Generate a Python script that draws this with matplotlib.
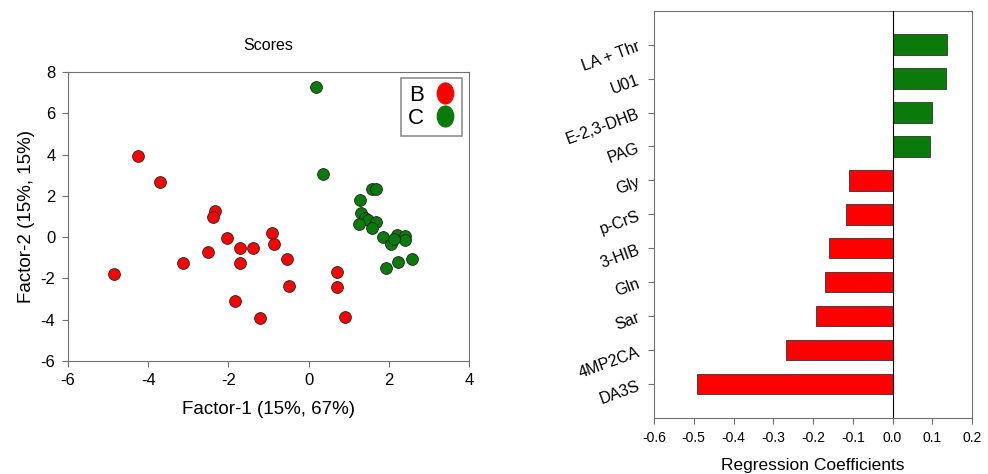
import numpy as np
import matplotlib.pyplot as plt
from matplotlib.path import Path
from matplotlib.lines import Line2D

plt.rcParams['font.family'] = ['Liberation Sans', 'DejaVu Sans']
plt.rcParams['axes.unicode_minus'] = False

# scores, group B (red)
b_x = [-4.84, -4.26, -3.71, -3.13, -2.34, -2.38, -2.51, -2.04, -1.70, -1.70,
       -1.39, -1.84, -1.20, -0.90, -0.86, -0.55, -0.48, 0.72, 0.72, 0.92]
b_y = [-1.79, 3.95, 2.65, -1.23, 1.29, 0.97, -0.71, -0.03, -0.55, -1.26,
       -0.52, -3.08, -3.92, 0.18, -0.31, -1.06, -2.35, -1.69, -2.40, -3.89]

# scores, group C (green)
c_x = [0.18, 0.37, 1.57, 1.68, 1.28, 1.30, 1.41, 1.49, 1.26, 1.68,
       1.59, 1.86, 2.05, 2.20, 2.40, 2.40, 2.14, 1.93, 2.22, 2.57]
c_y = [7.26, 3.06, 2.33, 2.33, 1.78, 1.15, 0.91, 0.83, 0.64, 0.72,
       0.43, -0.01, -0.35, 0.10, 0.07, -0.15, -0.11, -1.51, -1.22, -1.06]

# regression coefficients (bottom to top)
names = ['DA3S', '4MP2CA', 'Sar', 'Gln', '3-HIB', 'p-CrS', 'Gly',
         'PAG', 'E-2,3-DHB', 'U01', 'LA + Thr']
coefs = [-0.491, -0.267, -0.192, -0.170, -0.161, -0.117, -0.109,
         0.093, 0.099, 0.134, 0.138]

red = '#ff0000'
green = '#0a7a0a'
spine_col = '#707070'

fig = plt.figure(figsize=(9.88, 4.74), dpi=100)

# ---- left: scores plot
ax1 = fig.add_axes([0.0688, 0.2384, 0.4059, 0.6097])
ax1.scatter(b_x, b_y, s=72, c=red, edgecolors='#222222', linewidths=0.6,
            zorder=3)
ax1.scatter(c_x, c_y, s=72, c=green, edgecolors='#222222', linewidths=0.6,
            zorder=3)
ax1.set_xlim(-6, 4)
ax1.set_ylim(-6, 8)
ax1.set_xticks(np.arange(-6, 5, 2))
ax1.set_yticks(np.arange(-6, 9, 2))
ax1.set_title('Scores', fontsize=11.5, pad=16)
ax1.set_xlabel('Factor-1 (15%, 67%)', fontsize=13.5, labelpad=9)
ax1.set_ylabel('Factor-2 (15%, 15%)', fontsize=13.5, labelpad=4)
ax1.tick_params(labelsize=12, length=4, color=spine_col, pad=5)
for sp in ax1.spines.values():
    sp.set_color(spine_col)

# oval legend markers, as in the original
circ = Path.unit_circle()
oval = Path(circ.vertices * np.array([0.8, 1.0]), circ.codes)
handles = [Line2D([], [], ls='none', marker=oval, ms=16, mfc=red, mec='none'),
           Line2D([], [], ls='none', marker=oval, ms=16, mfc=green, mec='none')]
leg = ax1.legend(handles, ['B', 'C'], loc='upper right', markerfirst=False,
                 fontsize=16, fancybox=False, edgecolor='#909090',
                 handletextpad=0.5, labelspacing=0.1, borderpad=0.3,
                 handlelength=0.9, framealpha=1, borderaxespad=0,
                 bbox_to_anchor=(0.982, 0.979))
leg.get_frame().set_linewidth(1.2)

# ---- right: regression coefficients
ax2 = fig.add_axes([0.662, 0.1181, 0.3219, 0.8594])
pos = np.arange(len(names))
cols = [green if v > 0 else red for v in coefs]
ax2.barh(pos, coefs, height=0.6, color=cols, edgecolor='#333333',
         linewidth=0.6, zorder=3)
ax2.axvline(0, color='black', linewidth=0.8, zorder=4)
ax2.set_xlim(-0.6, 0.2)
ax2.set_ylim(-1, len(names))
xt = np.round(np.arange(-0.6, 0.21, 0.1), 1)
ax2.set_xticks(xt)
ax2.set_xticklabels([f'{abs(v):.1f}' if v == 0 else f'{v:.1f}' for v in xt])
ax2.set_yticks(pos)
ax2.set_yticklabels(names, rotation=20, ha='right', rotation_mode='anchor')
ax2.set_xlabel('Regression Coefficients', fontsize=12.5, labelpad=10)
ax2.tick_params(axis='x', labelsize=10, length=4, color=spine_col, pad=5)
ax2.tick_params(axis='y', labelsize=11.5, length=4, color=spine_col, pad=7)
for sp in ax2.spines.values():
    sp.set_color(spine_col)

fig.savefig('out.png', dpi=100)
